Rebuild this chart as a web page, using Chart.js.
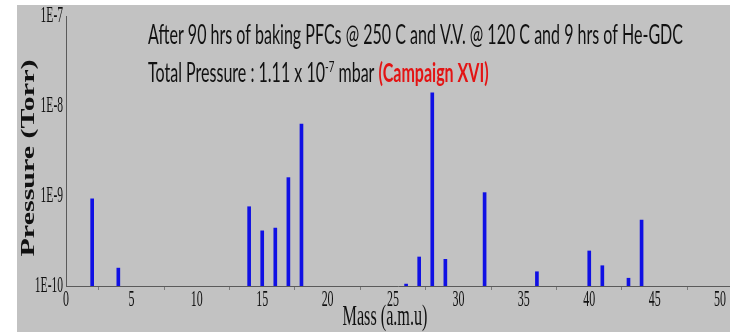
<!DOCTYPE html>
<html>
<head>
<meta charset="utf-8">
<script src="https://cdn.jsdelivr.net/npm/chart.js@4.4.1/dist/chart.umd.min.js"></script>
<style>
  html, body { margin: 0; padding: 0; background: #fff; }
  canvas { display: block; }
</style>
</head>
<body>
<canvas id="rga-chart" width="730" height="334"></canvas>
<script>
// RGA spectrum: partial pressure per mass number
const masses    = [2, 4, 14, 15, 16, 17, 18, 26, 27, 28, 29, 32, 36, 40, 41, 43, 44];
const pressures = [9.3e-10, 1.58e-10, 7.6e-10, 4.1e-10, 4.4e-10, 1.6e-9, 6.3e-9, 1.05e-10,
                   2.1e-10, 1.4e-8, 1.98e-10, 1.09e-9, 1.44e-10, 2.45e-10, 1.68e-10, 1.22e-10, 5.4e-10];

const xTicks      = [0, 5, 10, 15, 20, 25, 30, 35, 40, 45, 50];
const yTicks      = [1e-10, 1e-9, 1e-8, 1e-7];
const yTickLabels = ["1E-10", "1E-9", "1E-8", "1E-7"];

const xTitle = "Mass (a.m.u)";
const yTitle = "Pressure (Torr)";
const note1  = "After 90 hrs of baking PFCs @ 250 C and V.V. @ 120 C and 9 hrs of He-GDC";
const note2  = "Total Pressure : 1.11 x 10";
const note2Sup  = "-7";
const note2Unit = " mbar ";
const note2Red  = "(Campaign XVI)";

const ctx = document.getElementById("rga-chart").getContext("2d");

// squeezed text helper (labels are narrow and tall)
function squashText(c, text, x, y, font, sx, align, color, baseline) {
  c.save();
  c.font = font;
  c.fillStyle = color;
  c.textAlign = align;
  c.textBaseline = baseline || "alphabetic";
  c.translate(x, y);
  c.scale(sx, 1);
  c.fillText(text, 0, 0);
  c.restore();
}

const panelBg = {
  id: "panelBg",
  beforeDraw(chart) {
    const c = chart.ctx;
    c.save();
    c.fillStyle = "#ffffff";
    c.fillRect(0, 0, chart.width, chart.height);
    c.fillStyle = "#c2c2c2";
    c.fillRect(17, 5, chart.width - 17, 327);
    c.restore();
  }
};

const labels = {
  id: "labels",
  afterDraw(chart) {
    const c = chart.ctx;
    const xs = chart.scales.x, ys = chart.scales.y;

    // tick labels
    yTicks.forEach((v, i) => {
      squashText(c, yTickLabels[i], 63, ys.getPixelForValue(v), "24px 'Liberation Serif'", 0.48, "right", "#111", "middle");
    });
    xTicks.forEach(v => {
      squashText(c, String(v), xs.getPixelForValue(v), 300, "23px 'Liberation Serif'", 0.52, "center", "#111", "middle");
    });

    // axis titles
    squashText(c, xTitle, 385, 325, "30px 'Liberation Serif'", 0.54, "center", "#111");
    c.save();
    c.font = "bold 30px 'Liberation Serif'";
    c.fillStyle = "#111";
    c.textAlign = "center";
    c.translate(34, 158);
    c.rotate(-Math.PI / 2);
    c.scale(1, 0.65);
    c.fillText(yTitle, 0, 0);
    c.restore();

    // annotation
    const f = "26px Lato";
    c.save();
    c.font = f;
    const sx = 535 / c.measureText(note1).width;
    c.restore();
    squashText(c, note1, 148, 44, f, sx, "left", "#111");

    c.save();
    c.font = f;
    let x = 148;
    const w1 = c.measureText(note2).width * sx;
    c.font = "16px Lato";
    const wSup = c.measureText(note2Sup).width * sx;
    c.font = f;
    const wUnit = c.measureText(note2Unit).width * sx;
    c.restore();
    squashText(c, note2, x, 82, f, sx, "left", "#111");
    x += w1;
    squashText(c, note2Sup, x, 72, "16px Lato", sx, "left", "#111");
    x += wSup;
    squashText(c, note2Unit, x, 82, f, sx, "left", "#111");
    x += wUnit;
    squashText(c, note2Red, x, 82, "bold 26px Lato", sx, "left", "#e31414");
  }
};

new Chart(ctx, {
  type: "bar",
  data: {
    datasets: [{
      data: masses.map((m, i) => ({ x: m, y: pressures[i] })),
      backgroundColor: "rgb(16,16,228)",
      borderWidth: 0,
      barThickness: 3
    }]
  },
  options: {
    responsive: false,
    animation: false,
    layout: { padding: { top: 16, right: 0, left: 0, bottom: 0 } },
    plugins: { legend: { display: false }, tooltip: { enabled: false } },
    scales: {
      x: {
        type: "linear",
        min: 0,
        max: 50.76,
        offset: false,
        afterBuildTicks: s => { s.ticks = xTicks.map(v => ({ value: v })); },
        afterFit: s => { s.height = 48; },
        ticks: { display: false },
        grid: { display: true, drawOnChartArea: false, drawTicks: true, tickLength: 4, color: "#7a7a7a" },
        border: { display: true, color: "#5a5a5a", width: 1 }
      },
      y: {
        type: "logarithmic",
        min: 1e-10,
        max: 1e-7,
        afterBuildTicks: s => { s.ticks = yTicks.map(v => ({ value: v })); },
        afterFit: s => { s.width = 66; },
        ticks: { display: false },
        grid: { display: false },
        border: { display: true, color: "#5a5a5a", width: 1 }
      }
    }
  },
  plugins: [panelBg, labels]
});
</script>
</body>
</html>
